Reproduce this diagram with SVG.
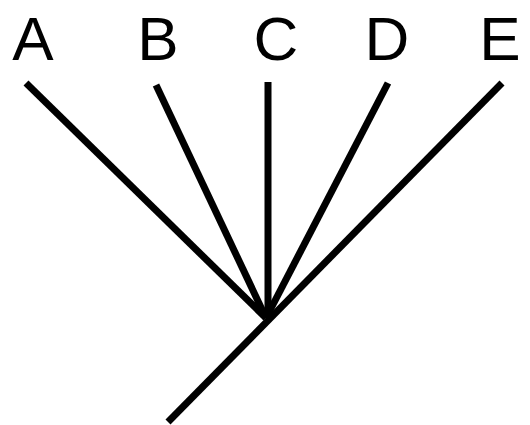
<svg xmlns="http://www.w3.org/2000/svg" width="530" height="425" viewBox="0 0 530 425">
<style>
.l{stroke:#000;stroke-width:7;fill:none}
.t{font-family:"Liberation Sans",Arial,sans-serif;font-size:62px;text-anchor:middle;fill:#000}
</style>
<rect width="530" height="425" fill="#fff"/>
<g id="labels">
<g id="A"><text class="t" x="33" y="60">A</text></g>
<g id="B"><text class="t" x="158" y="60">B</text></g>
<g id="C"><text class="t" x="276" y="60">C</text></g>
<g id="D"><text class="t" x="387" y="60">D</text></g>
<g id="E"><text class="t" x="500" y="60">E</text></g>
</g>
<g id="connectors">
<line class="l" x1="26" y1="83" x2="266" y2="318"/>
<line class="l" x1="156" y1="85" x2="266" y2="318"/>
<line class="l" x1="268" y1="82" x2="268" y2="318"/>
<line class="l" x1="388" y1="83" x2="266" y2="318"/>
<line class="l" x1="502" y1="83" x2="168" y2="422"/>
</g>
</svg>
